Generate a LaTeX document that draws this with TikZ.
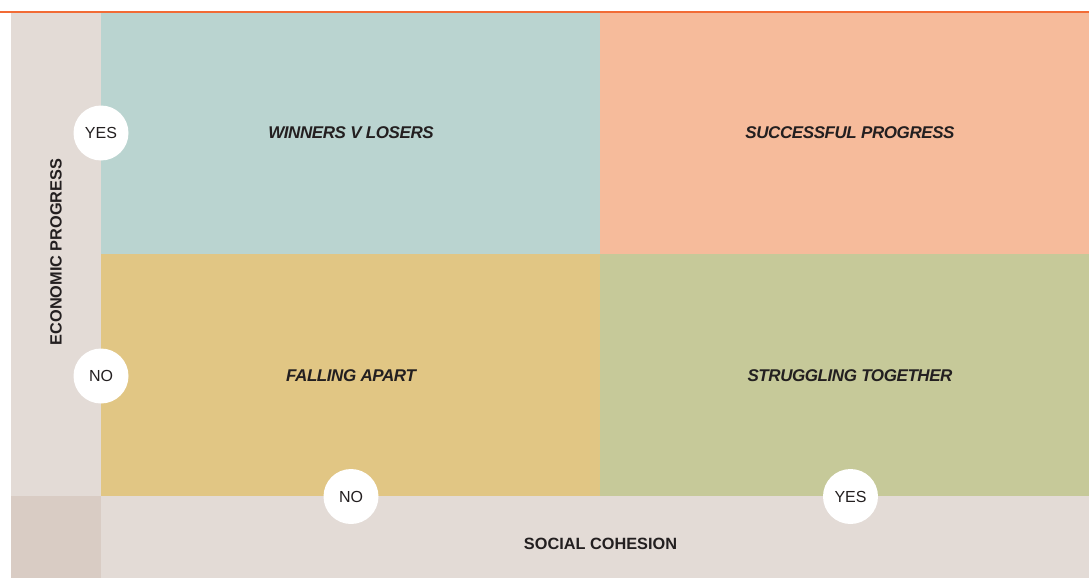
\documentclass[tikz,border=0pt]{standalone}
\usepackage{fontspec}
\setmainfont{Liberation Sans}
\newfontfamily\quadfont[LetterSpace=-2.5]{Liberation Sans}
\begin{document}
\begin{tikzpicture}[x=1pt,y=-1pt,
  quadlabel/.style={font=\quadfont\fontsize{17}{20}\selectfont\bfseries\itshape, text=textdark},
  axislabel/.style={font=\fontsize{16.3}{19}\selectfont\bfseries, text=textdark},
  answer/.style={circle, fill=white, minimum size=55pt, inner sep=0pt, font=\fontsize{16}{19}\selectfont, text=textdark},
  region/.style={draw=none}]
\definecolor{teal}{HTML}{BAD4D0}
\definecolor{peach}{HTML}{F6BB9B}
\definecolor{mustard}{HTML}{E1C684}
\definecolor{sage}{HTML}{C6C999}
\definecolor{strip}{HTML}{E3DBD6}
\definecolor{corner}{HTML}{D9CCC4}
\definecolor{rule}{HTML}{F26B35}
\definecolor{textdark}{HTML}{231F20}
\useasboundingbox (0,0) rectangle (1089,578);
\fill[white] (0,0) rectangle (1089,578);
% strips
\fill[strip] (11,12) rectangle (101,496);
\fill[strip] (101,496) rectangle (1089,578);
\fill[corner] (11,496) rectangle (101,578);
% quadrants
\fill[teal] (101,12) rectangle (600,254);
\fill[peach] (600,12) rectangle (1089,254);
\fill[mustard] (101,254) rectangle (600,496);
\fill[sage] (600,254) rectangle (1089,496);
% top rule
\coordinate (ruleL) at (0,12);
\coordinate (ruleR) at (1089,12);
\draw[rule, line width=1.3pt] (ruleL) -- (ruleR);
% quadrant labels
\node[quadlabel] (wl) at (351,133) {WINNERS V LOSERS};
\node[quadlabel] (sp) at (850,133) {SUCCESSFUL PROGRESS};
\node[quadlabel] (fa) at (351,376) {FALLING APART};
\node[quadlabel] (st) at (850,376) {STRUGGLING TOGETHER};
% answers
\node[answer] (ey) at (101,133) {YES};
\node[answer] (en) at (101,376) {NO};
\node[answer] (sn) at (351,496.5) {NO};
\node[answer] (sy) at (850.5,496.5) {YES};
% axis labels
\node[axislabel, rotate=90] (econ) at (56,252) {ECONOMIC PROGRESS};
\node[axislabel] (soc) at (600.5,544) {SOCIAL COHESION};
\end{tikzpicture}
\end{document}
